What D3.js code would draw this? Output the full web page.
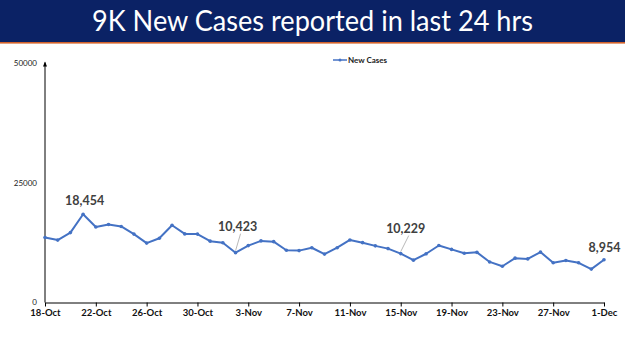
<!DOCTYPE html>
<html>
<head>
<meta charset="utf-8">
<script src="https://cdn.jsdelivr.net/npm/d3@7"></script>
<style>
  html, body { margin: 0; padding: 0; background: #fff; }
  svg { display: block; font-family: Lato, "Open Sans", sans-serif; }
</style>
</head>
<body>
<svg id="chart" width="625" height="351"></svg>
<script>
// daily new cases, 18-Oct to 1-Dec
const startDate = "2021-10-18";
const newCases = [
  13596, 13058, 14623, 18454, 15786, 16326, 15906, 14306, 12428, 13451,
  16156, 14348, 14313, 12830, 12514, 10423, 11903, 12885, 12729, 10929,
  10853, 11451, 10126, 11466, 13091, 12516, 11850, 11271, 10229, 8865,
  10197, 11919, 11106, 10302, 10488, 8488, 7579, 9283, 9119, 10549,
  8318, 8774, 8309, 6990, 8954
];
const yTicks = [0, 25000, 50000];
const xTickLabels = ["18-Oct", "22-Oct", "26-Oct", "30-Oct", "3-Nov", "7-Nov", "11-Nov",
  "15-Nov", "19-Nov", "23-Nov", "27-Nov", "1-Dec"];
const callouts = ["2021-10-21", "2021-11-02", "2021-11-15", "2021-12-01"];

const title = "9K New Cases reported in last 24 hrs";
const seriesName = "New Cases";

const parse = d3.timeParse("%Y-%m-%d");
const fmtTick = d3.timeFormat("%-d-%b");
const t0 = parse(startDate);
const data = newCases.map((v, i) => ({ date: d3.timeDay.offset(t0, i), value: v }));

const svg = d3.select("#chart");

// title banner
svg.append("rect").attr("x", 0).attr("y", 0).attr("width", 625).attr("height", 42)
  .attr("fill", "#0b2265");
svg.append("rect").attr("x", 0).attr("y", 42).attr("width", 625).attr("height", 1.6)
  .attr("fill", "#d2622a");
svg.append("text")
  .attr("x", 312.5).attr("y", 31)
  .attr("text-anchor", "middle")
  .attr("fill", "#fff")
  .attr("font-size", 29)
  .attr("textLength", 441)
  .attr("lengthAdjust", "spacingAndGlyphs")
  .text(title);

const x = d3.scaleTime()
  .domain(d3.extent(data, d => d.date))
  .range([45, 604]);
const y = d3.scaleLinear()
  .domain([0, 50000])
  .range([302.5, 63.5]);

// y axis with arrow
svg.append("defs").append("marker")
  .attr("id", "arrow").attr("viewBox", "0 0 6 6")
  .attr("refX", 3).attr("refY", 3).attr("markerWidth", 5).attr("markerHeight", 5)
  .attr("orient", "auto")
  .append("path").attr("d", "M0,6 L3,0 L6,6 Z").attr("fill", "#000");

svg.append("line")
  .attr("x1", x.range()[0]).attr("x2", x.range()[0])
  .attr("y1", y(0)).attr("y2", y(50000) - 1)
  .attr("stroke", "#000").attr("stroke-width", 1);
svg.append("path")
  .attr("d", `M${x.range()[0] - 2},${y(50000) + 3} L${x.range()[0]},${y(50000) - 2} L${x.range()[0] + 2},${y(50000) + 3} Z`)
  .attr("fill", "#000");

svg.append("g").selectAll("text")
  .data(yTicks).join("text")
  .attr("x", 37).attr("y", d => y(d))
  .attr("dy", "0.35em")
  .attr("text-anchor", "end")
  .attr("font-size", 8)
  .attr("fill", "#222")
  .text(d => d);

// x axis
const tickDates = xTickLabels.map((s, i) => d3.timeDay.offset(t0, i * 4));
const xAxis = d3.axisBottom(x)
  .tickValues(tickDates)
  .tickFormat(fmtTick)
  .tickSize(4)
  .tickSizeOuter(0);
const gx = svg.append("g")
  .attr("transform", `translate(0,${y(0)})`)
  .call(xAxis);
gx.select(".domain").attr("stroke", "#000");
gx.selectAll(".tick line").attr("stroke", "#000");
gx.selectAll(".tick text")
  .attr("font-family", "Lato, sans-serif")
  .attr("font-size", 9.5)
  .attr("font-weight", "bold")
  .attr("fill", "#111")
  .attr("y", 7);

// legend
svg.append("line").attr("x1", 333).attr("x2", 347).attr("y1", 60).attr("y2", 60)
  .attr("stroke", "#4472c4").attr("stroke-width", 1.5);
svg.append("circle").attr("cx", 340).attr("cy", 60).attr("r", 1.5).attr("fill", "#4472c4");
svg.append("text").attr("x", 348).attr("y", 60).attr("dy", "0.35em")
  .attr("font-size", 8).attr("font-weight", "bold").attr("fill", "#222")
  .text(seriesName);

// series
const line = d3.line().x(d => x(d.date)).y(d => y(d.value));
svg.append("path")
  .datum(data)
  .attr("fill", "none")
  .attr("stroke", "#4472c4")
  .attr("stroke-width", 2)
  .attr("stroke-linejoin", "round")
  .attr("d", line);
svg.append("g").selectAll("circle")
  .data(data).join("circle")
  .attr("cx", d => x(d.date)).attr("cy", d => y(d.value))
  .attr("r", 1.8)
  .attr("fill", "#4472c4");

// callout labels
const fmtNum = d3.format(",");
const calloutData = callouts.map(s => data.find(d => +d.date === +parse(s)));
const offsets = [
  { dx: 1.5, dy: -9, lead: false },
  { dx: 2, dy: -22, lead: true },
  { dx: 5, dy: -21, lead: true },
  { dx: 0.5, dy: -8, lead: false }
];
calloutData.forEach((d, i) => {
  const o = offsets[i];
  const px = x(d.date), py = y(d.value);
  if (o.lead) {
    svg.append("line")
      .attr("x1", px).attr("y1", py - 2)
      .attr("x2", px + o.dx + 3).attr("y2", py + o.dy + 3)
      .attr("stroke", "#a6a6a6").attr("stroke-width", 0.8);
  }
  svg.append("text")
    .attr("x", px + o.dx).attr("y", py + o.dy)
    .attr("text-anchor", "middle")
    .attr("font-size", 12.5)
    .attr("font-weight", "bold")
    .attr("fill", "#404040")
    .text(fmtNum(d.value));
});
</script>
</body>
</html>
